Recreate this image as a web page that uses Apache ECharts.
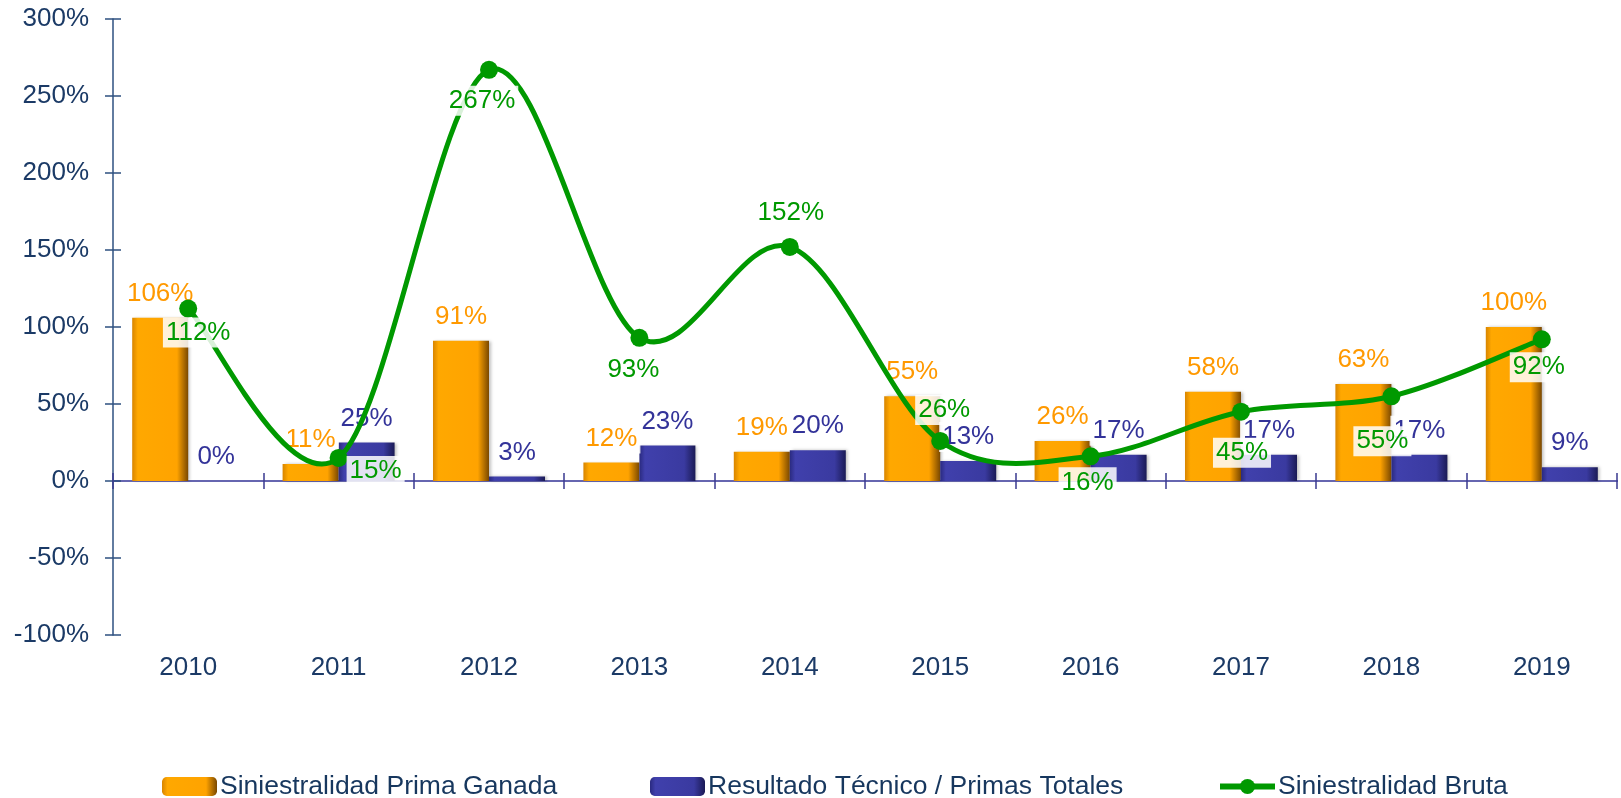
<!DOCTYPE html>
<html>
<head>
<meta charset="utf-8">
<script src="https://cdn.jsdelivr.net/npm/echarts@6.0.0/dist/echarts.min.js"></script>
<style>
  html, body { margin: 0; padding: 0; background: #fff; }
  #chart { width: 1621px; height: 798px; }
</style>
</head>
<body>
<div id="chart"></div>
<script>
// datos
const years = ['2010', '2011', '2012', '2013', '2014', '2015', '2016', '2017', '2018', '2019']
const primaGanada = [106, 11, 91, 12, 19, 55, 26, 58, 63, 100]
const resultadoTecnico = [0, 25, 3, 23, 20, 13, 17, 17, 17, 9]
const siniestralidadBruta = [112, 15, 267, 93, 152, 26, 16, 45, 55, 92]

const FONT = 'Liberation Sans, Arial, sans-serif'
const axisColor = '#1B3A66'
const green = '#009900'

// posicion de las etiquetas de la linea (como en Excel)
const lineLabelPos = ['bottom', 'right', 'bottom', 'bottom', 'top', 'top', 'bottom', 'bottom', 'bottom', 'bottom']
const lineLabelOffset = [[10, -5], [-6, 13], [-7, 2], [-6, 3], [1, -5], [4, -2], [-3, -3], [1, 12], [-9, 16], [-3, -1]]

var myChart = echarts.init(document.getElementById('chart'))

const labelBase = {
  show: true,
  fontSize: 26,
  fontFamily: FONT,
  formatter: '{c}%',
  backgroundColor: 'rgba(255,255,255,0.85)',
  padding: [2, 3]
}

const orangeFill = new echarts.graphic.LinearGradient(0, 0, 1, 0, [
  { offset: 0, color: '#D88500' },
  { offset: 0.1, color: '#FFA800' },
  { offset: 0.8, color: '#FFA300' },
  { offset: 1, color: '#7A4800' }
])
const blueFill = new echarts.graphic.LinearGradient(0, 0, 1, 0, [
  { offset: 0, color: '#2A2A80' },
  { offset: 0.1, color: '#4040AC' },
  { offset: 0.8, color: '#3A3AA0' },
  { offset: 1, color: '#1A1A55' }
])

// curva suavizada tipo Excel (catmull-rom) entre puntos consecutivos
function renderCurve(params, api) {
  const i = params.dataIndex
  const n = siniestralidadBruta.length
  if (i >= n - 1) return null
  const pt = k => {
    const j = Math.max(0, Math.min(n - 1, k))
    return api.coord([j, siniestralidadBruta[j]])
  }
  const p0 = pt(i - 1), p1 = pt(i), p2 = pt(i + 1), p3 = pt(i + 2)
  return {
    type: 'bezierCurve',
    shape: {
      x1: p1[0], y1: p1[1],
      x2: p2[0], y2: p2[1],
      cpx1: p1[0] + (p2[0] - p0[0]) / 6,
      cpy1: p1[1] + (p2[1] - p0[1]) / 6,
      cpx2: p2[0] - (p3[0] - p1[0]) / 6,
      cpy2: p2[1] - (p3[1] - p1[1]) / 6
    },
    style: { stroke: green, lineWidth: 5, fill: null, lineCap: 'round' }
  }
}

const yBase = {
  type: 'value',
  min: -100,
  max: 300,
  interval: 50,
  position: 'left',
  splitLine: { show: false }
}
const xBase = {
  type: 'category',
  data: years,
  position: 'bottom',
  splitLine: { show: false }
}

const legendBase = {
  top: 768,
  itemWidth: 55,
  itemHeight: 19,
  selectedMode: false,
  textStyle: { color: '#17375E', fontSize: 26.5, fontFamily: FONT, padding: [0, 0, 0, -2] }
}

let option = {
  animation: false,
  grid: { left: 113, right: 4, top: 19, bottom: 163, containLabel: false },
  legend: [
    Object.assign({}, legendBase, { left: 157, data: ['Siniestralidad Prima Ganada'] }),
    Object.assign({}, legendBase, { left: 645, data: ['Resultado Técnico / Primas Totales'] }),
    Object.assign({}, legendBase, {
      left: 1212,
      data: [{ name: 'Siniestralidad Bruta', lineStyle: { width: 6, color: green, opacity: 1 } }]
    })
  ],
  xAxis: [
    Object.assign({}, xBase, {
      axisLine: { show: false, onZero: false },
      axisTick: { show: false },
      axisLabel: { color: axisColor, fontSize: 26, fontFamily: FONT, margin: 20 }
    }),
    Object.assign({}, xBase, {
      axisLine: { show: true, onZero: true, lineStyle: { color: '#6666B0', width: 2 } },
      axisTick: { show: true, length: 8, lineStyle: { color: '#3A3A90', width: 1.5 } },
      axisLabel: { show: false }
    }),
    Object.assign({}, xBase, {
      axisLine: { show: true, onZero: true, lineStyle: { color: '#6666B0', width: 2 } },
      axisTick: { show: true, inside: true, length: 8, lineStyle: { color: '#3A3A90', width: 1.5 } },
      axisLabel: { show: false }
    })
  ],
  yAxis: [
    Object.assign({}, yBase, {
      axisLine: { show: true, lineStyle: { color: '#2E5080', width: 1.5 } },
      axisTick: { show: true, length: 8, lineStyle: { color: '#2E5080', width: 1.5 } },
      axisLabel: { color: axisColor, fontSize: 26, fontFamily: FONT, margin: 24, formatter: '{value}%' }
    }),
    Object.assign({}, yBase, {
      axisLine: { show: false },
      axisTick: { show: true, inside: true, length: 8, lineStyle: { color: '#2E5080', width: 1.5 } },
      axisLabel: { show: false }
    })
  ],
  series: [
    {
      name: 'Siniestralidad Prima Ganada',
      type: 'bar',
      data: primaGanada,
      barWidth: 56,
      barGap: '0%',
      itemStyle: { color: orangeFill, shadowColor: 'rgba(0,0,0,0.25)', shadowBlur: 3, shadowOffsetX: 2 },
      label: Object.assign({}, labelBase, { position: 'top', distance: 9, color: '#FF9900' })
    },
    {
      name: 'Resultado Técnico / Primas Totales',
      type: 'bar',
      data: resultadoTecnico,
      barWidth: 56,
      barGap: '0%',
      itemStyle: { color: blueFill, shadowColor: 'rgba(0,0,0,0.25)', shadowBlur: 3, shadowOffsetX: 2 },
      label: Object.assign({}, labelBase, { position: 'top', distance: 9, color: '#333399' })
    },
    {
      // solo el trazo de la curva
      type: 'custom',
      z: 3,
      silent: true,
      data: siniestralidadBruta.map((v, i) => [i, v]),
      encode: { x: 0, y: 1 },
      renderItem: renderCurve
    },
    {
      name: 'Siniestralidad Bruta',
      type: 'line',
      z: 5,
      symbol: 'circle',
      symbolSize: 18,
      lineStyle: { color: green, width: 5, opacity: 0 },
      itemStyle: { color: green },
      data: siniestralidadBruta.map((v, i) => ({
        value: v,
        label: { position: lineLabelPos[i], offset: lineLabelOffset[i] }
      })),
      label: Object.assign({}, labelBase, { color: green, distance: 5 })
    }
  ]
}

myChart.setOption(option)
window.onresize = function () {
  myChart.resize()
}
</script>
</body>
</html>
